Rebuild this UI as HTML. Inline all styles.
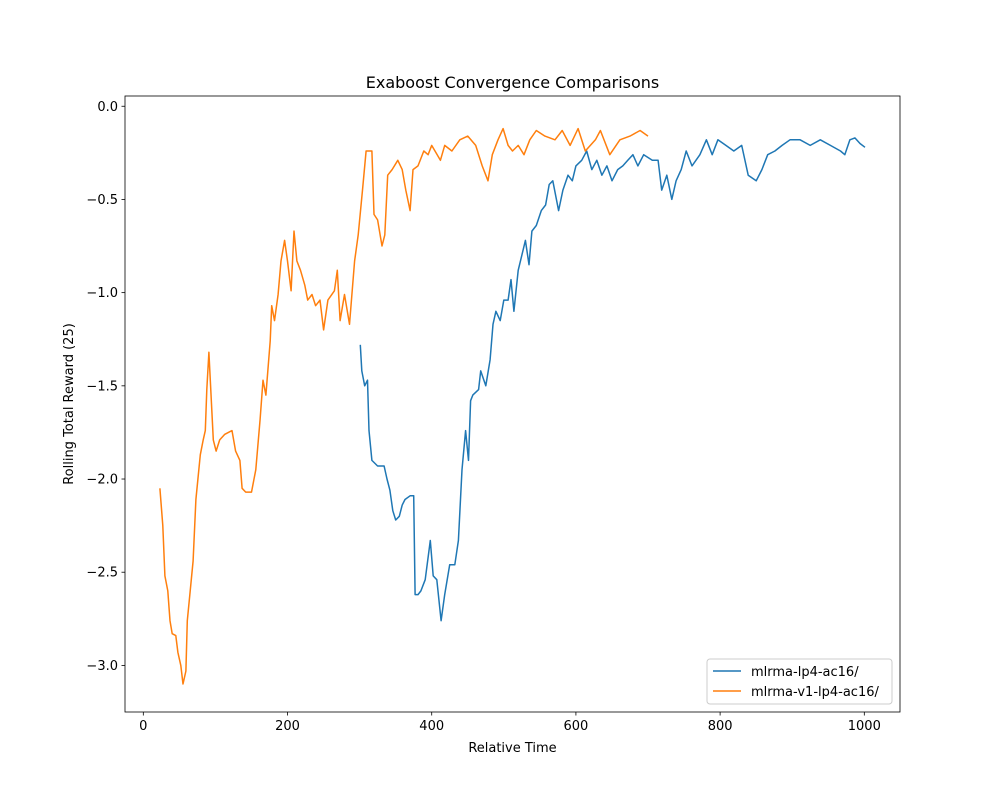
<!DOCTYPE html>
<html><head><meta charset="utf-8"><style>
body{margin:0;background:#fff}
svg{font-family:"DejaVu Sans","Liberation Sans",sans-serif}
</style></head><body>
<svg id="chart" width="1000" height="800" viewBox="0 0 1000 800" xmlns="http://www.w3.org/2000/svg">
<rect width="1000" height="800" fill="#fff"/>
<text x="512.5" y="88" font-size="16" text-anchor="middle">Exaboost Convergence Comparisons</text>
<text x="512.5" y="752" font-size="13" text-anchor="middle">Relative Time</text>
<text transform="translate(73,404) rotate(-90)" font-size="13" text-anchor="middle">Rolling Total Reward (25)</text>
<g id="plot"></g>
<g>
<rect x="707" y="659" width="185" height="45" rx="3" fill="#fff" fill-opacity="0.8" stroke="#ccc"/>
<line x1="713" y1="671" x2="741" y2="671" stroke="#1f77b4" stroke-width="1.5"/>
<text x="751" y="676" font-size="13">mlrma-lp4-ac16/</text>
<line x1="713" y1="691" x2="741" y2="691" stroke="#ff7f0e" stroke-width="1.5"/>
<text x="751" y="696" font-size="13">mlrma-v1-lp4-ac16/</text>
</g>
</svg>
<script>
const xTicks=[0,200,400,600,800,1000];
const yTicks=[0,-0.5,-1,-1.5,-2,-2.5,-3];
const yTickLabels=["0.0","−0.5","−1.0","−1.5","−2.0","−2.5","−3.0"];
const orangeX=[23,27,30,34,37,40,45,48,52,55,59,61,65,69,73,79,83,86,88,91,95,97,101,106,113,123,128,134,137,142,150,156,162,166,170,176,178,182,187,191,196,200,205,209,213,218,224,228,234,239,245,250,256,265,269,273,279,286,293,298,304,309,317,320,325,331,335,339,345,353,359,364,370,374,381,389,395,400,412,418,428,439,450,461,470,478,484,492,499,506,512,520,528,536,545,557,571,581,592,603,613,627,634,647,661,675,689,700];
const orangeY=[-2.05,-2.25,-2.52,-2.6,-2.76,-2.83,-2.84,-2.93,-3.0,-3.1,-3.03,-2.76,-2.6,-2.44,-2.11,-1.87,-1.79,-1.74,-1.52,-1.32,-1.63,-1.79,-1.85,-1.79,-1.76,-1.74,-1.85,-1.9,-2.05,-2.07,-2.07,-1.95,-1.68,-1.47,-1.55,-1.26,-1.07,-1.15,-1.01,-0.83,-0.72,-0.83,-0.99,-0.67,-0.83,-0.88,-0.96,-1.04,-1.01,-1.07,-1.04,-1.2,-1.04,-0.99,-0.88,-1.15,-1.01,-1.17,-0.83,-0.69,-0.45,-0.24,-0.24,-0.58,-0.61,-0.75,-0.69,-0.37,-0.34,-0.29,-0.34,-0.45,-0.56,-0.34,-0.32,-0.24,-0.26,-0.21,-0.29,-0.21,-0.24,-0.18,-0.16,-0.21,-0.32,-0.40,-0.26,-0.18,-0.12,-0.21,-0.24,-0.21,-0.26,-0.18,-0.13,-0.16,-0.18,-0.13,-0.21,-0.12,-0.24,-0.18,-0.13,-0.26,-0.18,-0.16,-0.13,-0.16];
const blueX=[301,303,307,311,313,317,325,334,338,342,346,350,355,359,363,370,375,377,381,385,391,398,402,407,413,418,425,432,437,442,447,451,454,457,465,468,475,481,485,489,495,500,506,510,514,520,525,530,535,539,545,552,558,563,568,576,582,589,595,600,608,615,622,629,636,643,650,658,665,672,679,686,694,706,714,719,726,733,739,746,753,761,772,781,789,797,808,819,830,839,850,858,866,876,886,897,911,925,939,953,967,973,980,987,994,1001];
const blueY=[-1.28,-1.42,-1.5,-1.47,-1.74,-1.9,-1.93,-1.93,-2.0,-2.06,-2.17,-2.22,-2.2,-2.14,-2.11,-2.09,-2.09,-2.62,-2.62,-2.6,-2.54,-2.33,-2.52,-2.54,-2.76,-2.62,-2.46,-2.46,-2.33,-1.95,-1.74,-1.9,-1.58,-1.55,-1.52,-1.42,-1.5,-1.36,-1.17,-1.1,-1.15,-1.04,-1.04,-0.93,-1.1,-0.88,-0.8,-0.72,-0.85,-0.67,-0.64,-0.56,-0.53,-0.42,-0.4,-0.56,-0.45,-0.37,-0.4,-0.32,-0.29,-0.24,-0.34,-0.29,-0.37,-0.32,-0.40,-0.34,-0.32,-0.29,-0.26,-0.32,-0.26,-0.29,-0.29,-0.45,-0.37,-0.5,-0.40,-0.34,-0.24,-0.32,-0.26,-0.18,-0.26,-0.18,-0.21,-0.24,-0.21,-0.37,-0.40,-0.34,-0.26,-0.24,-0.21,-0.18,-0.18,-0.21,-0.18,-0.21,-0.24,-0.26,-0.18,-0.17,-0.2,-0.22];
const L=125,R=900,T=96,B=712,xmin=-25.4,xmax=1049.5,ymin=-3.25,ymax=0.055;
function sx(v){return L+(v-xmin)/(xmax-xmin)*(R-L);}
function sy(v){return B-(v-ymin)/(ymax-ymin)*(B-T);}
const NS="http://www.w3.org/2000/svg";
const g=document.getElementById('plot');
function mk(t,a){const e=document.createElementNS(NS,t);for(const k in a)e.setAttribute(k,a[k]);g.appendChild(e);return e;}
function line(xs,ys,c,name){
  const p=mk('polyline',{points:xs.map((x,i)=>sx(x).toFixed(1)+','+sy(ys[i]).toFixed(1)).join(' '),fill:'none',stroke:c,'stroke-width':1.5,'stroke-linejoin':'round'});
  
  
}
line(blueX,blueY,'#1f77b4','series-mlrma-lp4-ac16');
line(orangeX,orangeY,'#ff7f0e','series-mlrma-v1-lp4-ac16');
const fr=mk('rect',{x:L,y:T,width:R-L,height:B-T,fill:'none',stroke:'#000','stroke-width':0.8});


xTicks.forEach(v=>{
  const x=sx(v);
  mk('line',{x1:x,y1:B,x2:x,y2:B+3.5,stroke:'#000','stroke-width':0.8});
  const t=mk('text',{x:x,y:B+18,'font-size':13,'text-anchor':'middle'});t.textContent=v;
  
  
});
yTicks.forEach((v,i)=>{
  const y=sy(v);
  mk('line',{x1:L-3.5,y1:y,x2:L,y2:y,stroke:'#000','stroke-width':0.8});
  const t=mk('text',{x:L-7,y:y+4.5,'font-size':13,'text-anchor':'end'});t.textContent=yTickLabels[i];
  
  
});
</script>
</body></html>
